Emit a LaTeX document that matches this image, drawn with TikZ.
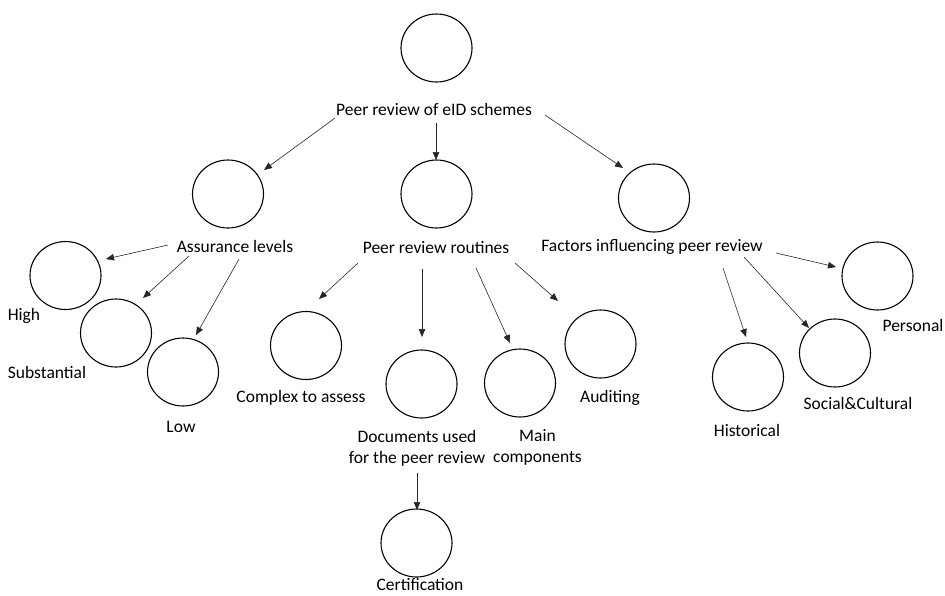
\documentclass[tikz,border=0pt]{standalone}
\usepackage{fontspec}
\setmainfont{Carlito}
\usetikzlibrary{arrows.meta,shapes.geometric,calc}

\tikzset{
  bubble/.style={ellipse, draw=black, line width=1.1pt, minimum width=71pt, minimum height=68pt, inner sep=0pt},
  lbl/.style={inner sep=0pt, font=\fontsize{17.5}{21}\selectfont, align=center},
  conn/.style={draw=black!85, line width=0.6pt, -{Triangle[length=8pt,width=6.5pt]}}
}

\begin{document}
\begin{tikzpicture}[x=1pt, y=-1pt]
  \useasboundingbox (0,0) rectangle (945,595);

  % root
  \node[bubble] (cRoot) at (436.5,48) {};
  \node[lbl] (lRoot) at (434,109) {Peer review of eID schemes};

  % second level
  \node[bubble] (cA) at (228,194) {};
  \node[lbl] (lA) at (235,246) {Assurance levels};
  \node[bubble] (cR) at (436.5,194) {};
  \node[lbl] (lR) at (436,248) {Peer review routines};
  \node[bubble] (cF) at (654,198) {};
  \node[lbl] (lF) at (652,247) {Factors influencing peer review};

  % assurance levels
  \node[bubble] (cHigh) at (65.5,275.5) {};
  \node[lbl] (lHigh) at (24,316) {High};
  \node[bubble] (cSub) at (116,333) {};
  \node[lbl] (lSub) at (47,372) {Substantial};
  \node[bubble] (cLow) at (183,372) {};
  \node[lbl] (lLow) at (181,427) {Low};

  % routines
  \node[bubble] (cCx) at (306,345.5) {};
  \node[lbl] (lCx) at (301,398) {Complex to assess};
  \node[bubble] (cDoc) at (421.5,384) {};
  \node[lbl] (lDoc) at (417,448.5) {Documents used\\for the peer review};
  \node[bubble] (cMain) at (520,383) {};
  \node[lbl] (lMain) at (537.5,447.5) {Main\\components};
  \node[bubble] (cAud) at (600.5,344) {};
  \node[lbl] (lAud) at (610,398) {Auditing};

  % certification
  \node[bubble] (cCert) at (416.5,543) {};
  \node[lbl] (lCert) at (420,584.5) {Certification};

  % factors
  \node[bubble] (cHist) at (748,377) {};
  \node[lbl] (lHist) at (747,430) {Historical};
  \node[bubble] (cSoc) at (835,353) {};
  \node[lbl] (lSoc) at (858,403) {Social\&Cultural};
  \node[bubble] (cPer) at (877.5,276) {};
  \node[lbl] (lPer) at (913,325) {Personal};

  % connectors: from a label to the circle of each child
  \draw[conn] ($(lRoot)+(-99,9)$) -- ($(cA)+(36,-24)$);
  \draw[conn] ($(lRoot)+(2,14)$) -- ($(cR)+(-0.5,-34)$);
  \draw[conn] ($(lRoot)+(111,6)$) -- ($(cF)+(-31,-30)$);

  \draw[conn] ($(lA)+(-67,-1)$) -- ($(cHigh)+(40.5,-16.5)$);
  \draw[conn] ($(lA)+(-46,10)$) -- ($(cSub)+(27,-35)$);
  \draw[conn] ($(lA)+(4,13)$) -- ($(cLow)+(13,-37)$);

  \draw[conn] ($(lR)+(-78,15)$) -- ($(cCx)+(13,-46.5)$);
  \draw[conn] ($(lR)+(-14,21)$) -- ($(cDoc)+(0.5,-47)$);
  \draw[conn] ($(lR)+(40,20)$) -- ($(cMain)+(-10,-40)$);
  \draw[conn] ($(lR)+(79,15)$) -- ($(cAud)+(-42.5,-43)$);

  \draw[conn] ($(lF)+(124,6)$) -- ($(cPer)+(-41.5,-9)$);
  \draw[conn] ($(lF)+(92,10)$) -- ($(cSoc)+(-26,-25)$);
  \draw[conn] ($(lF)+(71,21)$) -- ($(cHist)+(-2,-40)$);

  \draw[conn] ($(lDoc)+(0,24.5)$) -- ($(cCert)+(0.5,-33)$);
\end{tikzpicture}
\end{document}
